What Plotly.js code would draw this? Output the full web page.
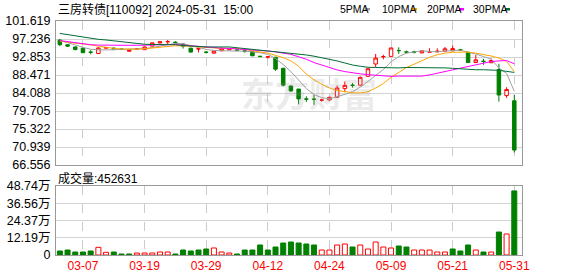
<!DOCTYPE html>
<html><head><meta charset="utf-8">
<script src="https://cdn.plot.ly/plotly-3.0.1.min.js"></script>
<style>html,body{margin:0;padding:0;background:#fff}#c{width:578px;height:276px}</style>
</head><body><div id="c"></div>
<script>
const dates = ['2024-03-04','2024-03-05','2024-03-06','2024-03-07','2024-03-08','2024-03-11','2024-03-12','2024-03-13','2024-03-14','2024-03-15','2024-03-18','2024-03-19','2024-03-20','2024-03-21','2024-03-22','2024-03-25','2024-03-26','2024-03-27','2024-03-28','2024-03-29',
'2024-04-01','2024-04-02','2024-04-03','2024-04-08','2024-04-09','2024-04-10','2024-04-11','2024-04-12','2024-04-15','2024-04-16','2024-04-17','2024-04-18','2024-04-19','2024-04-22','2024-04-23','2024-04-24','2024-04-25','2024-04-26','2024-04-29','2024-04-30',
'2024-05-06','2024-05-07','2024-05-08','2024-05-09','2024-05-10','2024-05-13','2024-05-14','2024-05-15','2024-05-16','2024-05-17','2024-05-20','2024-05-21','2024-05-22','2024-05-23','2024-05-24','2024-05-27','2024-05-28','2024-05-29','2024-05-30','2024-05-31'];
const openP = [96.99,95.85,95.3,95.0,94.05,93.7,95.0,95.0,94.8,94.25,94.75,94.63,95.5,96.26,96.55,96.45,96.0,95.0,94.8,94.05,93.8,94.35,94.6,94.55,94.35,94.15,93.05,92.85,92.8,90.1,85.8,85.05,82.65,82.6,82.35,82.4,83.05,85.15,86.0,86.0,88.15,91.15,92.9,93.0,94.45,94.1,94.1,93.85,94.05,94.1,94.25,94.35,94.6,94.0,91.5,91.85,91.45,89.8,83.45,82.2];
const highP = [97.2,96.0,95.4,95.1,94.5,95.2,95.3,95.2,94.9,94.6,95.0,95.35,96.35,96.6,97.0,96.7,96.1,95.1,94.85,94.3,94.35,95.2,95.0,94.7,94.6,94.2,93.1,92.95,92.85,90.2,85.9,85.1,83.3,83.6,82.7,83.1,85.9,86.9,86.5,88.1,90.1,93.6,93.4,95.1,95.2,94.4,94.4,94.4,95.0,94.95,95.3,95.6,94.85,94.1,93.35,92.4,92.45,91.2,85.5,83.6];
const lowP = [95.5,95.3,94.5,93.8,93.5,93.65,94.9,94.7,94.6,94.15,94.7,94.55,95.4,96.2,96.0,96.1,94.9,93.95,93.95,93.7,93.7,94.3,94.55,94.3,93.9,93.05,92.9,92.5,89.5,85.7,84.4,81.3,81.9,81.2,82.0,82.3,83.0,84.3,85.4,85.9,88.0,90.4,92.3,92.95,93.6,93.7,93.7,93.8,94.05,94.1,94.2,94.3,94.3,91.4,91.45,90.95,91.4,82.0,82.9,69.6];
const closeP = [95.85,95.5,94.65,93.9,94.0,95.05,95.15,94.85,94.7,94.55,94.9,95.29,96.3,96.58,96.6,96.35,95.5,94.05,94.85,93.98,94.3,94.85,94.9,94.5,94.25,93.15,92.95,92.9,89.9,86.0,84.6,82.65,82.6,82.55,82.4,83.05,85.3,85.95,85.95,87.9,90.0,92.6,92.95,95.05,94.4,94.05,94.05,94.35,94.1,94.25,94.85,94.9,94.55,91.5,92.15,91.75,92.0,83.6,84.95,70.2];
const ma5 = [96.9,96.4,95.8,95.2,94.74,94.59,94.52,94.59,94.75,94.88,94.84,94.88,95.12,95.48,95.86,96.15,96.1,95.6,95.1,94.7,94.45,94.35,94.35,94.3,94.3,94.15,93.9,93.5,92.5,91.0,89.3,87.24,85.18,83.69,82.97,82.65,83.11,83.75,84.4,85.52,86.9,88.4,89.82,91.66,92.97,93.79,94.09,94.37,94.19,94.13,94.3,94.48,94.53,94.01,93.58,92.95,92.37,90.18,88.87,84.49];
const ma10 = [96.7,96.5,96.3,96.1,95.8,95.5,95.2,94.95,94.8,94.75,94.75,94.85,95.0,95.2,95.45,95.6,95.55,95.4,95.25,95.1,95.0,94.95,94.95,94.95,94.7,94.3,94.05,93.8,93.3,92.7,91.9,90.6,88.7,87.3,86.2,85.3,84.7,84.35,84.15,84.1,84.4,85.3,86.4,87.9,89.0,90.3,91.1,91.9,92.8,93.4,93.8,94.0,94.07,94.05,93.8,93.5,93.1,92.6,91.8,89.3];
const ma20 = [96.85,96.6,96.3,96.05,95.85,95.75,95.7,95.7,95.7,95.7,95.7,95.75,95.85,95.9,95.95,95.9,95.75,95.6,95.4,95.2,95.1,95.0,94.95,94.85,94.75,94.6,94.45,94.3,94.1,93.8,93.5,92.9,92.3,91.5,90.9,90.2,89.7,89.3,88.95,88.75,88.55,88.45,88.2,88.15,88.2,88.15,88.15,88.2,88.5,88.9,89.35,89.8,90.2,90.6,90.95,91.4,91.75,91.9,92.0,91.2];
const ma30 = [98.6,98.3,97.9,97.6,97.35,97.15,97.0,96.8,96.55,96.3,96.05,95.95,95.9,95.9,95.9,95.85,95.65,95.5,95.35,95.3,95.3,95.3,95.3,95.1,94.9,94.75,94.55,94.4,94.2,94.05,93.85,93.6,93.35,93.05,92.7,92.3,91.9,91.4,90.9,90.6,90.35,90.3,90.25,90.2,90.2,90.3,90.3,90.25,90.2,90.2,90.2,90.1,89.95,89.8,89.75,89.75,89.75,89.6,89.35,89.1];
const volume = [28300,35300,21200,21200,28300,54200,18800,21200,7100,7100,14100,14100,14100,21200,21200,7100,35300,28300,35300,42400,49500,21200,14100,7100,35300,35300,70700,35300,56500,84800,91800,84800,77700,70700,35300,35300,70700,77700,56500,70700,42400,91800,56500,49500,63600,56500,35300,35300,35300,21200,21200,42400,28300,70700,35300,21200,21200,162500,148400,452631];
const volDir = [-1,-1,-1,-1,-1,1,1,-1,-1,-1,1,1,1,1,1,-1,-1,-1,-1,-1,1,1,1,-1,-1,-1,-1,-1,-1,-1,-1,-1,-1,-1,1,1,1,1,-1,1,1,1,1,1,-1,-1,1,1,1,1,1,-1,-1,-1,1,-1,1,-1,1,-1];
const priceTicks = [66.556,70.939,75.322,79.705,84.088,88.471,92.853,97.236,101.619];
const volTickVals = [0,121850,243700,365550,487400];
const volTickText = ['0','12.19万','24.37万','36.56万','48.74万'];
const maNames = ['5PMA','10PMA','20PMA','30PMA'];
const titleText = '三房转债[110092] 2024-05-31\u00a0 15:00';

const RED='#FF0000', GREEN='#008000';
const maColors = ['#A0A0A0','#FFA500','#FF00FF','#006D36'];
const W=578,H=276;
const px=v=>v/W, py=v=>1-v/H;
const tickDates = dates.filter((d,i)=>i%8===3);
const tickLabels = tickDates.map(d=>d.slice(5));

const traces = [
  {type:'candlestick', x:dates, open:openP, high:highP, low:lowP, close:closeP, xaxis:'x', yaxis:'y',
   increasing:{line:{color:RED,width:1}, fillcolor:'#FFFFFF'},
   decreasing:{line:{color:GREEN,width:1}, fillcolor:GREEN},
   whiskerwidth:0, hoverinfo:'skip', showlegend:false}
];
[ma5,ma10,ma20,ma30].forEach((m,k)=>traces.push({type:'scatter',mode:'lines',x:dates,y:m,xaxis:'x',yaxis:'y',
  line:{color:maColors[k],width:1},hoverinfo:'skip',showlegend:false}));
traces.push({type:'bar', x:dates, y:volume, xaxis:'x2', yaxis:'y2',
  marker:{color:volDir.map(d=>d>0?'#FFFFFF':GREEN), line:{color:volDir.map(d=>d>0?RED:GREEN), width:1}},
  hoverinfo:'skip', showlegend:false});

const baseFont = 'Liberation Sans, Arial, Noto Sans CJK SC, sans-serif';
const xcommon = {type:'category', range:[-0.5,60], domain:[px(56),px(522)], tickvals:tickDates,
  showgrid:true, gridcolor:'#CCCCCC', griddash:'dash', gridwidth:1, showline:true, mirror:true, linecolor:'#999999', linewidth:1,
  zeroline:false, ticks:'', fixedrange:true};
const annotations = [
  {text:titleText, xref:'paper', yref:'paper', x:px(56), y:py(9), xanchor:'left', yanchor:'middle', showarrow:false,
   font:{family:baseFont, size:12, color:'#000'}},
  {text:'成交量:'+volume[volume.length-1], xref:'paper', yref:'paper', x:px(56), y:py(178), xanchor:'left', yanchor:'middle', showarrow:false,
   font:{family:baseFont, size:12, color:'#000'}},
  {text:'东方财富', xref:'paper', yref:'paper', x:px(309), y:py(93), xanchor:'center', yanchor:'middle', showarrow:false,
   font:{family:'Noto Sans CJK SC', size:34, color:'rgba(150,150,150,0.2)', weight:'bold'}}
];
const legX = [338,380,425,471], legM=[365,412,459,505];
const shapes = [];
maNames.forEach((n,k)=>{
  annotations.push({text:n, xref:'paper', yref:'paper', x:px(legX[k]), y:py(9), xanchor:'left', yanchor:'middle', showarrow:false,
    font:{family:baseFont, size:10.5, color:'#000'}});
  shapes.push({type:'rect', xref:'paper', yref:'paper', x0:px(legM[k]), x1:px(legM[k]+5), y0:py(10.5), y1:py(8), line:{width:0}, fillcolor:maColors[k]});
});

const layout = {
  width:W, height:H, margin:{l:0,r:0,t:0,b:0}, paper_bgcolor:'#FFFFFF', plot_bgcolor:'#FFFFFF', showlegend:false,
  font:{family:baseFont, size:12, color:'#000'}, bargap:0.35, boxgap:0.35,
  xaxis:Object.assign({}, xcommon, {anchor:'y', showticklabels:false, rangeslider:{visible:false}}),
  xaxis2:Object.assign({}, xcommon, {anchor:'y2', showticklabels:true, ticktext:tickLabels, tickfont:{family:baseFont,size:12,color:RED}}),
  yaxis:{domain:[py(165),py(21)], range:[66.556,101.619], tickvals:priceTicks, ticktext:priceTicks.map(v=>v.toFixed(3)),
    showgrid:true, gridcolor:'#D3D3D3', showline:true, mirror:true, linecolor:'#999999', zeroline:false, ticks:'',
    ticklabelstandoff:2, tickfont:{family:baseFont,size:12.5,color:'#000'}, fixedrange:true, anchor:'x'},
  yaxis2:{domain:[py(255),py(186)], range:[0,487400], tickvals:volTickVals, ticktext:volTickText,
    showgrid:true, gridcolor:'#D3D3D3', showline:true, mirror:true, linecolor:'#999999', zeroline:false, ticks:'',
    ticklabelstandoff:2, tickfont:{family:baseFont,size:12.5,color:'#000'}, fixedrange:true, anchor:'x2'},
  annotations, shapes
};
Plotly.newPlot('c', traces, layout, {staticPlot:true, displayModeBar:false});
</script></body></html>
